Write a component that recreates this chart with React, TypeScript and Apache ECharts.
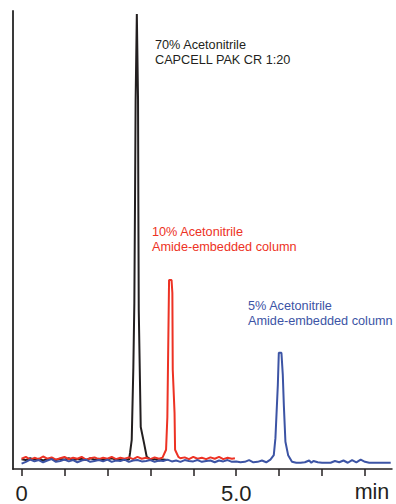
import React, { useEffect, useRef } from 'react';
import * as echarts from 'echarts';

// x-axis ticks (min) and labelled ticks
const tickValues = [0, 1, 2, 3, 4, 5, 6, 7, 8];
const labelValues = [0, 5];

// 70% Acetonitrile, CAPCELL PAK CR 1:20  [time (min), signal]
const blackTrace: [number, number][] = [
  [0.0, 0.4], [0.1, 0.2], [0.2, 0.6], [0.3, 0.3], [0.4, 0.5], [0.5, 0.1], [0.6, 0.4],
  [0.7, 0.6], [0.8, 0.2], [0.9, 0.5], [1.0, 0.3], [1.1, 0.6], [1.2, 0.2], [1.3, 0.4],
  [1.4, 0.5], [1.5, 0.2], [1.6, 0.6], [1.7, 0.3], [1.8, 0.5], [1.9, 0.2], [2.0, 0.4],
  [2.1, 0.6], [2.2, 0.3], [2.3, 0.5], [2.4, 0.2], [2.503, 0.3], [2.527, 1.8],
  [2.566, 4.7], [2.604, 21], [2.627, 35.3], [2.643, 58.4], [2.657, 80.8], [2.685, 100],
  [2.713, 80.8], [2.72, 58.4], [2.73, 33.8], [2.776, 7.6], [2.853, 4.0], [2.916, 0.9],
  [3.03, 0.2], [3.1, 0.4], [3.2, 0.1], [3.3, 0.3], [3.4, 0.2],
];

// 10% Acetonitrile, Amide-embedded column
const redTrace: [number, number][] = [
  [0.0, 0.5], [0.1, 0.9], [0.2, 0.3], [0.3, 0.7], [0.4, 0.4], [0.5, 1.0], [0.6, 0.5],
  [0.7, 0.8], [0.8, 0.3], [0.9, 0.6], [1.0, 0.9], [1.1, 0.4], [1.2, 0.7], [1.3, 0.5],
  [1.4, 0.9], [1.5, 0.3], [1.6, 0.6], [1.7, 0.8], [1.8, 0.4], [1.9, 0.7], [2.0, 0.5],
  [2.1, 0.9], [2.2, 0.4], [2.3, 0.7], [2.4, 0.5], [2.5, 0.8], [2.6, 0.4], [2.7, 0.9],
  [2.8, 0.5], [2.9, 0.7], [3.0, 0.4], [3.1, 0.8], [3.2, 0.5], [3.28, 0.7],
  [3.366, 2.5], [3.396, 9.8], [3.436, 40.5], [3.494, 40.5], [3.513, 37.6],
  [3.522, 20.4], [3.564, 10.7], [3.576, 2.5], [3.653, 0.9],
  [3.7, 0.6], [3.8, 0.8], [3.9, 0.4], [4.0, 0.9], [4.1, 0.5], [4.2, 0.7], [4.3, 0.4],
  [4.4, 0.8], [4.5, 0.5], [4.6, 0.9], [4.7, 0.4], [4.8, 0.7], [4.9, 0.5], [4.97, 0.6],
];

// 5% Acetonitrile, Amide-embedded column
const blueTrace: [number, number][] = [
  [0.0, -0.6], [0.1, -0.2], [0.2, 0.3], [0.3, -0.1], [0.4, 0.2], [0.5, -0.3], [0.6, 0.1],
  [0.7, 0.4], [0.8, -0.2], [0.9, 0.0], [1.0, 0.3], [1.1, -0.1], [1.2, 0.2], [1.3, -0.3],
  [1.4, 0.1], [1.5, 0.3], [1.6, -0.2], [1.7, 0.0], [1.8, 0.2], [1.9, -0.1], [2.0, 0.3],
  [2.1, -0.2], [2.2, 0.1], [2.3, 0.0], [2.4, 0.3], [2.5, -0.2], [2.6, 0.1], [2.7, 0.2],
  [2.8, -0.1], [2.9, 0.0], [3.0, 0.2], [3.1, -0.2], [3.2, 0.1], [3.3, 0.0], [3.4, 0.3],
  [3.5, -0.1], [3.6, 0.1], [3.7, -0.2], [3.8, 0.2], [3.9, 0.0], [4.0, -0.1], [4.1, 0.2],
  [4.2, -0.2], [4.3, 0.0], [4.4, 0.1], [4.5, -0.3], [4.6, 0.1], [4.7, -0.1], [4.8, 0.2],
  [4.9, -0.2], [5.0, -0.1], [5.1, -0.3], [5.2, -0.2], [5.3, 0.2], [5.4, -0.3], [5.5, -0.2],
  [5.6, 0.1], [5.7, -0.3], [5.797, 0.3], [5.876, 1.3], [5.914, 5.1], [5.97, 17],
  [5.993, 24.2], [6.054, 24.2], [6.086, 19.2], [6.11, 12.5], [6.147, 4.3], [6.21, 1.3],
  [6.3, -0.2], [6.4, -0.4], [6.5, -0.4], [6.6, -0.3], [6.7, 0.1], [6.75, -0.4], [6.8, 0.0],
  [6.9, -0.3], [7.0, -0.4], [7.1, -0.4], [7.2, -0.4], [7.3, 0.0], [7.4, -0.3], [7.5, 0.1],
  [7.6, -0.4], [7.7, 0.2], [7.8, -0.3], [7.9, 0.3], [8.0, -0.2], [8.1, -0.4], [8.2, -0.4],
  [8.3, -0.4], [8.4, -0.4], [8.5, -0.4], [8.6, -0.4],
];

const BLACK = '#231f20';
const RED = '#ed3224';
const BLUE = '#3c54a5';
const FONT = '"Liberation Sans", Arial, Helvetica, sans-serif';

const annotations = [
  { text: '70% Acetonitrile', x: 155, y: 45, color: BLACK },
  { text: 'CAPCELL PAK CR 1:20', x: 155, y: 60, color: BLACK },
  { text: '10% Acetonitrile', x: 152, y: 232, color: RED },
  { text: 'Amide-embedded column', x: 152, y: 247, color: RED },
  { text: '5% Acetonitrile', x: 248, y: 306, color: BLUE },
  { text: 'Amide-embedded column', x: 248, y: 321, color: BLUE },
];

export default function App() {
  const ref = useRef<HTMLDivElement>(null);
  useEffect(() => {
    document.body.style.margin = '0';
    const chart = echarts.init(ref.current!, null, { renderer: 'svg' });
    const lineSeries = (name: string, data: [number, number][], color: string, width: number) => ({
      name,
      type: 'line',
      data,
      showSymbol: false,
      symbol: 'none',
      lineStyle: { color, width },
      silent: true,
    });
    chart.setOption({
      animation: false,
      backgroundColor: '#ffffff',
      grid: { left: 13, top: 11, width: 379, height: 458, containLabel: false },
      xAxis: {
        type: 'value',
        min: -0.2,
        max: 8.63,
        splitLine: { show: false },
        axisLine: { show: true, onZero: false, lineStyle: { color: BLACK, width: 1.5 } },
        axisTick: {
          show: true,
          customValues: tickValues,
          length: 7,
          inside: false,
          lineStyle: { color: BLACK, width: 1.5 },
        },
        axisLabel: {
          show: true,
          customValues: labelValues,
          formatter: (v: number) => (v === 0 ? '0' : v.toFixed(1)),
          fontSize: 22,
          fontFamily: FONT,
          color: BLACK,
          margin: 13,
        },
      },
      yAxis: {
        type: 'value',
        min: -1.8,
        max: 100.7,
        splitLine: { show: false },
        axisLine: { show: true, onZero: false, lineStyle: { color: '#3a3a3a', width: 2 } },
        axisTick: { show: false },
        axisLabel: { show: false },
      },
      series: [
        lineSeries('70% Acetonitrile', blackTrace, BLACK, 2),
        lineSeries('10% Acetonitrile', redTrace, RED, 2),
        lineSeries('5% Acetonitrile', blueTrace, BLUE, 2),
      ],
      graphic: [
        ...annotations.map((a) => ({
          type: 'text',
          x: a.x,
          y: a.y,
          silent: true,
          style: {
            text: a.text,
            fill: a.color,
            fontSize: 12.7,
            fontFamily: FONT,
            align: 'left',
            verticalAlign: 'middle',
          },
        })),
        {
          type: 'text',
          x: 372,
          y: 492,
          silent: true,
          style: {
            text: 'min',
            fill: BLACK,
            fontSize: 21.5,
            fontFamily: FONT,
            align: 'center',
            verticalAlign: 'middle',
          },
        },
      ],
    });
    return () => chart.dispose();
  }, []);
  return (
    <div
      ref={ref}
      style={{ position: 'absolute', left: 0, top: 0, width: 396, height: 504 }}
    />
  );
}
